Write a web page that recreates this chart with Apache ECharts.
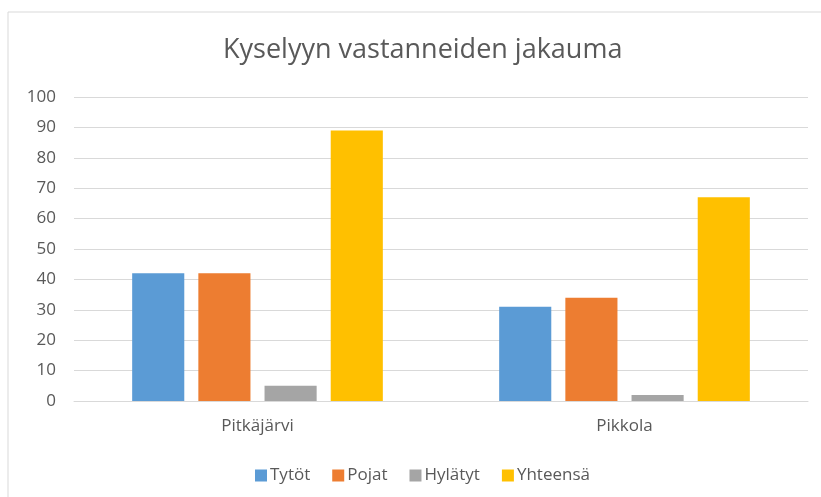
<!DOCTYPE html>
<html>
<head>
<meta charset="utf-8">
<script src="https://cdn.jsdelivr.net/npm/echarts@6/dist/echarts.min.js"></script>
<style>
  html, body { margin: 0; padding: 0; background: #fff; }
  #chart { width: 821px; height: 497px; }
</style>
</head>
<body>
<div id="chart"></div>
<script>
// data
const categories = ['Pitkäjärvi', 'Pikkola']
const tytot = [42, 31]
const pojat = [42, 34]
const hylatyt = [5, 2]
const yhteensa = [89, 67]
const seriesNames = ['Tytöt', 'Pojat', 'Hylätyt', 'Yhteensä']
const colors = ['#5B9BD5', '#ED7D31', '#A5A5A5', '#FFC000']

const font = "'Open Sans', 'Noto Sans', sans-serif"
const textColor = '#595959'

const chart = echarts.init(document.getElementById('chart'))

const option = {
  animation: false,
  color: colors,
  textStyle: { fontFamily: font },
  // outer chart frame, like the office chart border
  graphic: [{
    type: 'rect',
    shape: { x: 8, y: 12, width: 830, height: 500 },
    style: { fill: 'none', stroke: '#d9d9d9', lineWidth: 1 },
    silent: true
  }],
  title: {
    text: 'Kyselyyn vastanneiden jakauma',
    left: 218,
    top: 32,
    textStyle: { fontFamily: font, fontSize: 27, fontWeight: 'normal', color: textColor }
  },
  legend: {
    data: seriesNames,
    bottom: 8,
    left: 250,
    itemWidth: 12,
    itemHeight: 12,
    itemGap: 22,
    icon: 'rect',
    textStyle: { fontFamily: font, fontSize: 17, color: textColor, padding: [0, 0, 0, -2] }
  },
  grid: {
    left: 74,
    right: 13,
    top: 97,
    bottom: 96
  },
  xAxis: {
    type: 'category',
    data: categories,
    axisLine: { lineStyle: { color: '#d9d9d9' } },
    axisTick: { show: false },
    axisLabel: { fontFamily: font, fontSize: 17, color: textColor, margin: 17 }
  },
  yAxis: {
    type: 'value',
    min: 0,
    max: 100,
    interval: 10,
    axisLine: { show: false },
    axisTick: { show: false },
    splitLine: { lineStyle: { color: '#d9d9d9' } },
    axisLabel: { fontFamily: font, fontSize: 17, color: textColor, margin: 18 }
  },
  series: [
    { name: seriesNames[0], type: 'bar', data: tytot, barWidth: '14.2%', barGap: '27%' },
    { name: seriesNames[1], type: 'bar', data: pojat, barWidth: '14.2%', barGap: '27%' },
    { name: seriesNames[2], type: 'bar', data: hylatyt, barWidth: '14.2%', barGap: '27%' },
    { name: seriesNames[3], type: 'bar', data: yhteensa, barWidth: '14.2%', barGap: '27%' }
  ]
}

chart.setOption(option)
</script>
</body>
</html>
